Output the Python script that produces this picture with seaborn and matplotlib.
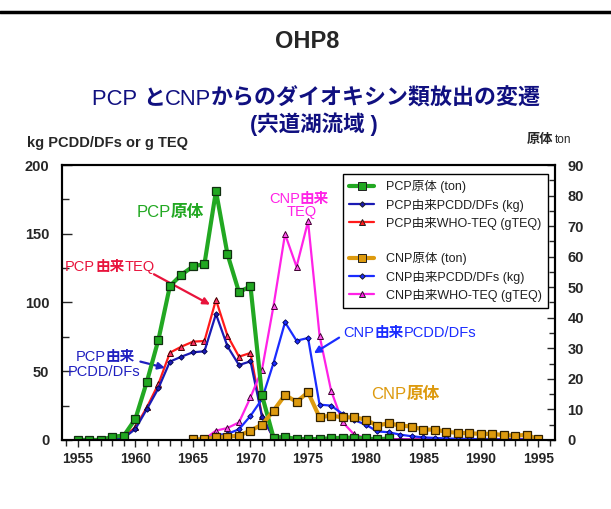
import numpy as np
import pandas as pd
import matplotlib
matplotlib.use('Agg')
import matplotlib.pyplot as plt
from matplotlib.lines import Line2D
from matplotlib.ticker import MultipleLocator
import seaborn as sns

# --- data ---
pcp_years = list(range(1955, 1983))
pcp_raw = [0, 0, 0, 1.1, 1.4, 6.9, 19.1, 32.8, 50.4, 54.1, 56.8, 57.6, 81.5, 60.8, 48.4,
           50.3, 14.6, 0.8, 1.0, 0.3, 0.3, 0.3, 0.6, 0.7, 0.8, 0.5, 0.2, 0.5]

pcp_der_years = list(range(1958, 1996))
pcp_pcdd = [1, 1.5, 8, 22.5, 37.6, 57, 60.6, 63.8, 64.5, 91.6, 68.1, 54.5, 57.2, 17,
            1.5, 1.0, 0.6, 0.5, 0.5, 0.8, 0.8, 0.9, 0.6, 0.3, 0.5, 0.4, 0.3, 0.3, 0.3,
            0.2, 0.2, 0.2, 0.2, 0.2, 0.2, 0.2, 0.2, 0.2]
pcp_teq = [1.5, 2.4, 9.2, 23.8, 40.7, 63.5, 67.9, 71.5, 72, 102, 75.9, 60.6, 63.3, 17.5,
           1.4, 1.2, 0.7, 0.6, 0.6, 0.9, 0.9, 1.0, 0.7, 0.4, 0.6, 0.5, 0.4, 0.4, 0.3,
           0.3, 0.3, 0.3, 0.3, 0.3, 0.3, 0.3, 0.3, 0.3]

cnp_years = list(range(1965, 1996))
cnp_raw = [0.2, 0.2, 0.9, 1.1, 1.4, 3.1, 5.0, 9.6, 14.7, 12.5, 15.6, 7.4, 8.0, 7.4, 7.4,
           6.7, 4.7, 5.5, 4.7, 4.4, 3.4, 3.4, 2.7, 2.3, 2.2, 2.0, 2.0, 1.6, 1.4, 1.7, 0.2]

cnp_der_years = list(range(1966, 1996))
cnp_pcdd = [0.5, 3.6, 4.4, 7.8, 17.5, 29.8, 56, 85.6, 72.2, 74.2, 25.7, 25, 18.9, 14.5,
            11.2, 6.3, 5.6, 3.9, 2.7, 1.9, 1.5, 1.1, 0.9, 0.7, 0.6, 0.5, 0.4, 0.4, 0.3, 0.3]
cnp_teq = [0.5, 6.8, 8.7, 12.8, 31, 51.2, 97.5, 149.8, 126, 159, 75.9, 35.9, 13, 4, 1.5,
           0.6, 0.4, 0.3, 0.3, 0.2, 0.2, 0.2, 0.2, 0.2, 0.2, 0.2, 0.2, 0.2, 0.2, 0.2]

labels = ['PCP原体 (ton)', 'PCP由来PCDD/DFs (kg)', 'PCP由来WHO-TEQ (gTEQ)',
          'CNP原体 (ton)', 'CNP由来PCDD/DFs (kg)', 'CNP由来WHO-TEQ (gTEQ)']

sns.set_style('ticks')
plt.rcParams['font.family'] = ['Liberation Sans', 'Noto Sans CJK JP']

GREEN = '#22a822'
ORANGE = '#dd9a0e'
RED = '#ff1a1a'
NAVY = '#1a1ab4'
BLUE = '#1a2cff'
MAGENTA = '#ff22e6'

fig = plt.figure(figsize=(6.11, 5.09), dpi=100)
ax = fig.add_axes([0.101, 0.1356, 0.8073, 0.5402])
ax2 = ax.twinx()

# left axis: kg / g TEQ
sns.lineplot(x=pcp_der_years, y=pcp_teq, ax=ax, color=RED, linewidth=1.6, marker='^',
             markersize=4.5, markerfacecolor='#ff3366', markeredgecolor='#400000', markeredgewidth=0.7)
sns.lineplot(x=pcp_der_years, y=pcp_pcdd, ax=ax, color=NAVY, linewidth=1.6, marker='D',
             markersize=2.8, markerfacecolor=NAVY, markeredgecolor='#000040', markeredgewidth=0.6)
sns.lineplot(x=cnp_der_years, y=cnp_teq, ax=ax, color=MAGENTA, linewidth=1.6, marker='^',
             markersize=4.5, markerfacecolor='#ff55ee', markeredgecolor='#400030', markeredgewidth=0.7)
sns.lineplot(x=cnp_der_years, y=cnp_pcdd, ax=ax, color=BLUE, linewidth=1.6, marker='D',
             markersize=2.8, markerfacecolor=BLUE, markeredgecolor='#000050', markeredgewidth=0.6)

# right axis: raw material tons
sns.lineplot(x=pcp_years, y=pcp_raw, ax=ax2, color=GREEN, linewidth=3.0, marker='s',
             markersize=6, markerfacecolor=GREEN, markeredgecolor='#103010', markeredgewidth=0.9)
sns.lineplot(x=cnp_years, y=cnp_raw, ax=ax2, color=ORANGE, linewidth=3.0, marker='s',
             markersize=6, markerfacecolor=ORANGE, markeredgecolor='#302000', markeredgewidth=0.9)

ax.set_xlim(1953.6, 1996.45)
ax.set_ylim(0, 200)
ax2.set_ylim(0, 90)
ax.set_xlabel('')
ax.set_ylabel('')
ax2.set_ylabel('')

ax.xaxis.set_major_locator(MultipleLocator(5))
ax.xaxis.set_minor_locator(MultipleLocator(1))
ax.yaxis.set_major_locator(MultipleLocator(50))
ax.yaxis.set_minor_locator(MultipleLocator(25))
ax2.yaxis.set_major_locator(MultipleLocator(10))
ax2.yaxis.set_minor_locator(MultipleLocator(5))

ax.tick_params(axis='x', which='major', direction='out', length=5, width=1, labelsize=10, pad=4)
ax.tick_params(axis='x', which='minor', direction='out', length=4, width=1)
ax.tick_params(axis='y', which='major', direction='in', length=7, width=1, labelsize=10.5, pad=9)
ax.tick_params(axis='y', which='minor', direction='in', length=5, width=1)
ax2.tick_params(axis='y', which='major', direction='in', length=6, width=1, labelsize=10.5, pad=9)
ax2.tick_params(axis='y', which='minor', direction='in', length=4, width=1)
for lab in ax.get_xticklabels() + ax.get_yticklabels() + ax2.get_yticklabels():
    lab.set_fontweight('bold')
for a in (ax, ax2):
    for sp in a.spines.values():
        sp.set_visible(True)
        sp.set_linewidth(1.5)
        sp.set_color('black')


def rich(x, y, parts, color, size, coords='data'):
    # draws text pieces one after another, each piece with its own weight/style
    if coords == 'fig':
        t = fig.text(x, y, parts[0][0], color=color, fontsize=size, va='bottom', ha='left', **parts[0][1])
    else:
        t = ax.text(x, y, parts[0][0], color=color, fontsize=size, va='bottom', ha='left', **parts[0][1])
    for s, kw in parts[1:]:
        if coords == 'fig':
            t = fig.add_artist(matplotlib.text.Annotation(s, xy=(1, 0), xycoords=t, va='bottom', ha='left',
                                                          color=color, fontsize=size, **kw))
        else:
            t = ax.annotate(s, xy=(1, 0), xycoords=t, va='bottom', ha='left',
                            color=color, fontsize=size, **kw)


bi = dict(fontweight='bold', fontstyle='italic')
rg = dict()
bd = dict(fontweight='bold')

rich(1960.1, 160, [('PCP', rg), ('原体', bi)], GREEN, 12)
rich(1953.9, 121, [('PCP', rg), ('由来', bi), ('TEQ', rg)], '#e8143c', 10.5)
rich(1954.8, 55, [('PCP', rg), ('由来', bi)], '#2020c0', 10.5)
rich(1954.1, 44, [('PCDD/DFs', rg)], '#2020c0', 10.5)
rich(1971.6, 170.5, [('CNP', rg), ('由来', bi)], MAGENTA, 10.5)
rich(1973.1, 161, [('TEQ', rg)], MAGENTA, 10.5)
rich(1978.1, 72.5, [('CNP', rg), ('由来', bi), ('PCDD/DFs', rg)], BLUE, 10.5)
rich(1980.5, 27.5, [('CNP', rg), ('原体', bi)], ORANGE, 12)

arrow = dict(arrowstyle='-|>', lw=1.6, mutation_scale=10)
ax.annotate('', xy=(1966.7, 97.5), xytext=(1961.4, 121.5),
            arrowprops=dict(color='#e8143c', **arrow))
ax.annotate('', xy=(1962.8, 52), xytext=(1960.2, 57.5),
            arrowprops=dict(color='#2020c0', **arrow))
ax.annotate('', xy=(1975.3, 62), xytext=(1977.9, 75.5),
            arrowprops=dict(color=BLUE, **arrow))

# legend
styles = [(GREEN, 3.0, 's', 6), (NAVY, 1.6, 'D', 2.8), (RED, 1.6, '^', 4.5),
          (ORANGE, 3.0, 's', 6), (BLUE, 1.6, 'D', 2.8), (MAGENTA, 1.6, '^', 4.5)]
handles = []
for c, lw, m, ms in styles:
    handles.append(Line2D([], [], color=c, lw=lw, marker=m, markersize=ms,
                          markerfacecolor=c, markeredgecolor='#202020', markeredgewidth=0.7))
blank = Line2D([], [], color='none')
leg_handles = handles[:3] + [blank] + handles[3:]
leg_labels = labels[:3] + [''] + labels[3:]
leg = ax2.legend(leg_handles, leg_labels, loc='upper right', bbox_to_anchor=(0.998, 0.99),
                 fontsize=9, frameon=True, fancybox=False, framealpha=1, edgecolor='black',
                 handlelength=2.0, labelspacing=0.42, borderpad=0.5, handletextpad=0.9)
leg.get_frame().set_linewidth(1.0)
for t in leg.get_texts():
    t.set_color('#202020')

# axis titles
fig.text(27 / 611, 1 - 143 / 509, 'kg PCDD/DFs or g TEQ', fontsize=10.5, fontweight='bold', va='center', ha='left')
fig.text(527 / 611, 1 - 140 / 509, '原体', fontsize=9.5, fontweight='bold', va='center', ha='left')
fig.text(555 / 611, 1 - 140 / 509, 'ton', fontsize=8.5, va='center', ha='left')

# titles
fig.text(307 / 611, 1 - 41 / 509, 'OHP8', fontsize=17, fontweight='bold', ha='center', va='center')
rich(92 / 611, 1 - 110 / 509, [('PCP ', rg), ('と', bd), ('CNP', rg),
                                 ('からのダイオキシン類放出の変遷', bd)], '#101080', 15.8, coords='fig')
fig.text(314 / 611, 1 - 124 / 509, '(宍道湖流域 )', fontsize=15.5,
         fontweight='bold', color='#101080', ha='center', va='center')

fig.add_artist(Line2D([0, 1], [1 - 12 / 509, 1 - 12 / 509], color='black', lw=2.5,
                      transform=fig.transFigure))

fig.savefig('out.png', dpi=100)
